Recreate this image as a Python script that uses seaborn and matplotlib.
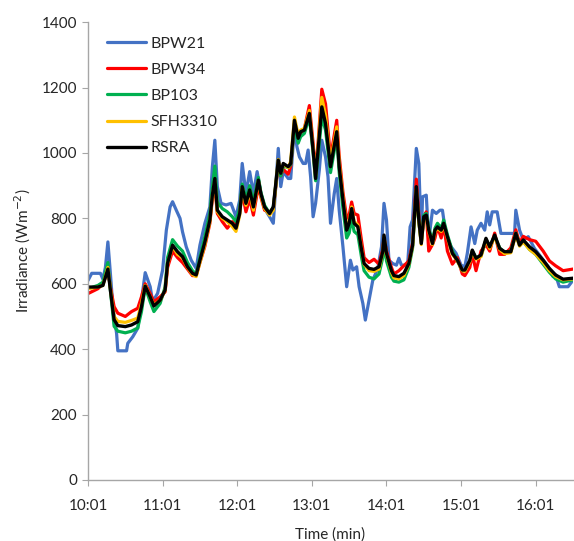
import numpy as np
import pandas as pd
import matplotlib
matplotlib.use("Agg")
import matplotlib.pyplot as plt
import seaborn as sns

# minutes after 10:01
t_main = [0, 8, 12, 16, 18, 21, 24, 30, 35, 40, 43, 46, 50, 53, 58, 62, 64, 68, 72, 76,
          80, 84, 87, 90, 94, 98, 100, 102, 104, 108, 112, 116, 119, 122, 124, 127, 130, 133, 137, 139,
          142, 146, 149, 153, 155, 157, 161, 163, 166, 169, 171, 174, 178, 181, 183, 185, 188, 191, 195, 200,
          202, 205, 208, 210, 212, 214, 217, 220, 222, 226, 230, 234, 237, 238, 240, 244, 246, 250, 254, 258,
          261, 264, 266, 268, 270, 272, 274, 277, 279, 281, 284, 286, 289, 293, 297, 301, 303, 307, 309, 312,
          316, 320, 323, 327, 331, 335, 340, 344, 347, 350, 355, 360, 366, 371, 376, 382, 390]

rsra = [590, 590, 595, 645, 581, 490, 472, 469, 474, 484, 530, 593, 560, 532, 550, 581, 663, 718, 698, 683,
        652, 632, 627, 672, 728, 795, 871, 922, 825, 805, 795, 785, 770, 815, 897, 846, 887, 835, 917, 876,
        835, 815, 835, 978, 938, 968, 958, 968, 1100, 1045, 1065, 1070, 1121, 1009, 922, 1009, 1141, 1090, 958, 1065,
        958, 856, 764, 785, 830, 785, 774, 703, 662, 647, 644, 652, 698, 749, 693, 640, 625, 622, 632, 662,
        718, 897, 795, 723, 805, 810, 764, 723, 764, 774, 764, 785, 744, 693, 672, 642, 642, 672, 703, 678,
        688, 739, 713, 749, 708, 698, 698, 754, 718, 734, 713, 698, 672, 647, 627, 614, 617]

bpw34 = [570, 585, 600, 640, 590, 530, 510, 500, 515, 525, 560, 600, 570, 545, 560, 575, 650, 700, 680, 665,
         645, 625, 625, 665, 715, 785, 860, 900, 815, 790, 770, 790, 780, 820, 880, 820, 860, 810, 900, 865,
         825, 820, 830, 965, 930, 950, 935, 960, 1090, 1050, 1060, 1075, 1145, 1030, 940, 1030, 1195, 1150, 985, 1100,
         990, 880, 800, 810, 850, 815, 810, 730, 680, 665, 675, 660, 705, 740, 700, 650, 630, 640, 655, 670,
         725, 920, 810, 730, 800, 820, 700, 720, 740, 775, 740, 780, 700, 660, 680, 630, 625, 650, 690, 640,
         700, 720, 700, 755, 690, 690, 710, 765, 725, 745, 735, 730, 700, 670, 655, 640, 645]

bp103 = [585, 595, 605, 665, 580, 470, 455, 450, 455, 465, 515, 590, 545, 515, 540, 590, 680, 735, 715, 700,
         665, 640, 630, 680, 745, 815, 895, 960, 850, 830, 820, 805, 790, 830, 905, 860, 900, 850, 925, 880,
         840, 815, 835, 970, 930, 960, 955, 965, 1085, 1030, 1050, 1060, 1110, 1000, 915, 990, 1110, 1070, 940, 1050,
         940, 830, 740, 755, 800, 760, 750, 680, 640, 620, 615, 630, 680, 735, 670, 620, 608, 605, 612, 650,
         710, 885, 790, 725, 810, 815, 770, 730, 770, 785, 770, 795, 750, 700, 670, 640, 640, 670, 700, 680,
         685, 735, 715, 745, 710, 695, 700, 755, 720, 730, 705, 690, 660, 635, 615, 605, 612]

sfh3310 = [585, 590, 595, 650, 585, 500, 485, 482, 488, 495, 540, 595, 560, 535, 550, 580, 660, 715, 690, 680,
           650, 628, 622, 665, 720, 790, 870, 915, 820, 800, 790, 775, 760, 810, 895, 840, 880, 825, 915, 870,
           830, 810, 825, 980, 940, 965, 955, 975, 1110, 1055, 1070, 1075, 1130, 1015, 930, 1020, 1170, 1115, 970, 1080,
           970, 865, 770, 790, 835, 790, 780, 705, 660, 640, 638, 645, 695, 745, 690, 635, 618, 615, 625, 660,
           715, 890, 790, 720, 800, 805, 760, 720, 760, 770, 760, 780, 740, 690, 670, 640, 638, 668, 700, 675,
           683, 735, 708, 745, 705, 692, 695, 750, 715, 728, 705, 690, 665, 640, 622, 612, 615]

t_bpw21 = [0, 3, 10, 12, 14, 16, 18, 20, 23, 24, 31, 32, 36, 40, 43, 46, 50, 52, 56, 60,
           63, 66, 68, 71, 74, 76, 79, 83, 87, 90, 94, 98, 100, 102, 104, 107, 111, 115, 119, 122,
           124, 127, 130, 133, 136, 139, 142, 146, 149, 153, 155, 157, 161, 163, 166, 168, 170, 173, 175, 177,
           179, 181, 183, 186, 188, 191, 193, 195, 198, 200, 202, 205, 208, 211, 213, 216, 218, 221, 223, 226,
           229, 233, 236, 238, 240, 242, 245, 248, 250, 252, 257, 259, 261, 264, 266, 268, 269, 272, 274, 277,
           280, 283, 285, 288, 292, 296, 300, 303, 305, 308, 311, 313, 316, 319, 321, 323, 325, 329, 332, 343,
           344, 347, 350, 354, 359, 364, 370, 374, 376, 379, 386, 390]

bpw21 = [610, 632, 632, 614, 650, 728, 632, 530, 448, 395, 395, 418, 438, 464, 550, 634, 591, 545, 571, 642,
         764, 835, 851, 825, 800, 759, 713, 672, 647, 718, 785, 835, 958, 1039, 897, 846, 841, 846, 805, 856,
         968, 876, 943, 876, 943, 876, 830, 805, 785, 1014, 897, 943, 922, 922, 1080, 1019, 988, 968, 968, 1009,
         927, 805, 846, 948, 1039, 988, 927, 785, 876, 922, 825, 713, 591, 672, 642, 652, 591, 540, 489, 550,
         611, 647, 713, 846, 795, 672, 662, 657, 678, 657, 657, 774, 795, 1014, 968, 734, 866, 871, 734, 825,
         815, 825, 825, 744, 713, 693, 657, 652, 693, 774, 723, 764, 785, 764, 820, 780, 820, 820, 754, 754,
         825, 764, 734, 744, 708, 683, 652, 622, 627, 591, 591, 611]

tick_pos = [0, 60, 120, 180, 240, 300, 360]
tick_labels = ["10:01", "11:01", "12:01", "13:01", "14:01", "15:01", "16:01"]

sns.set_style("white")
plt.rcParams["font.family"] = ["Lato", "DejaVu Sans"]
plt.rcParams["font.size"] = 11

fig = plt.figure(figsize=(5.74, 5.41), dpi=100)
ax = fig.add_axes([0.1533, 0.1128, 0.845, 0.8462])

series = [
    ("BPW21", t_bpw21, bpw21, "#4472C4", 2.3),
    ("BPW34", t_main, bpw34, "#FF0000", 2.3),
    ("BP103", t_main, bp103, "#00B050", 2.3),
    ("SFH3310", t_main, sfh3310, "#FFC000", 2.3),
    ("RSRA", t_main, rsra, "#000000", 2.4),
]
for name, tt, vals, col, lw in series:
    df = pd.DataFrame({"t": tt, "v": vals})
    sns.lineplot(data=df, x="t", y="v", ax=ax, color=col, linewidth=lw,
                 label=name, estimator=None, sort=False)

ax.set_xlim(0, 390)
ax.set_ylim(0, 1400)
ax.set_yticks(range(0, 1401, 200))
ax.set_xticks(tick_pos)
ax.set_xticklabels(tick_labels)
ax.set_xlabel("Time (min)", labelpad=10)
ax.set_ylabel("Irradiance (Wm$^{-2}$)", labelpad=6)

for s in ["top", "right"]:
    ax.spines[s].set_visible(False)
for s in ["left", "bottom"]:
    ax.spines[s].set_color("#a6a6a6")
    ax.spines[s].set_linewidth(1)
ax.tick_params(axis="both", direction="out", length=4, color="#a6a6a6",
               labelsize=11, left=True, bottom=True, pad=4)
ax.tick_params(axis="x", pad=10)

ax.legend(loc="upper left", bbox_to_anchor=(0.01, 1.0), frameon=False,
          handlelength=2.4, labelspacing=0.75, handletextpad=0.3, fontsize=11.5)

fig.savefig("out.png", dpi=100)
